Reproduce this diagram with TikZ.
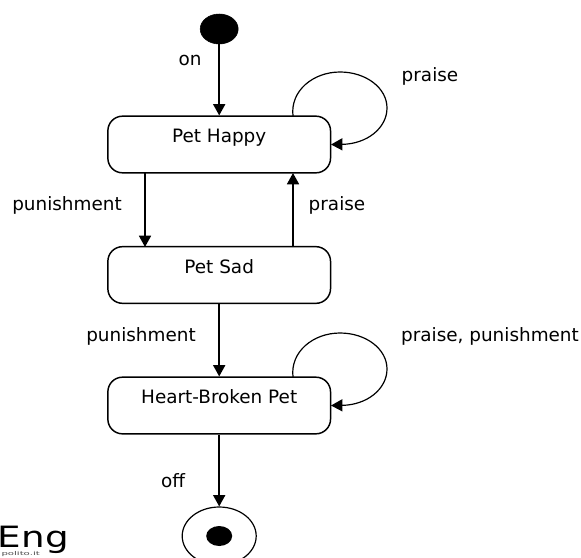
\documentclass[tikz,border=0pt]{standalone}
\usepackage{fontspec}
\setmainfont{DejaVu Sans}
\usetikzlibrary{arrows.meta,shapes.geometric}
\tikzset{
  statebox/.style={draw,line width=1.1pt,rounded corners=11pt,minimum width=167pt,minimum height=42.5pt,inner sep=0pt,text depth=13pt,font=\fontsize{13.8}{15}\selectfont},
  trans/.style={line width=1.3pt,-{Triangle[length=8.5pt,width=9pt]}},
  lab/.style={inner sep=0pt,font=\fontsize{13.8}{15}\selectfont},
}
\begin{document}
\begin{tikzpicture}[x=0.75pt,y=-0.75pt]

\clip (0,0) rectangle (581,557);

\node[draw,fill=black,ellipse,minimum width=28.5pt,minimum height=22.5pt,inner sep=0pt] (start) at (219.2,29) {};

\node[statebox] (happy) at (219.2,144.5) {Pet Happy};
\node[statebox] (sad) at (219.2,275) {Pet Sad};
\node[statebox] (broken) at (219.2,405.5) {Heart-Broken Pet};

\node[draw,line width=0.9pt,ellipse,minimum width=55.5pt,minimum height=43.5pt,inner sep=0pt] (final) at (219.2,536) {};
\node[fill=black,ellipse,minimum width=19.5pt,minimum height=15pt,inner sep=0pt] (dot) at (219.2,536) {};

\coordinate (happyL) at (145,173);
\coordinate (sadL) at (145,247);
\coordinate (happyR) at (293,173);
\coordinate (sadR) at (293,247);

\coordinate (loopA) at (293,116);
\coordinate (loopB) at (331,144.5);
\coordinate (loopC) at (293,377);
\coordinate (loopD) at (331,405.5);

\draw[trans] (start) --(happy);
\draw[trans] (happyL) --(sadL);
\draw[trans] (sadR) --(happyR);
\draw[trans] (sad) --(broken);
\draw[trans] (broken) --(final);

\draw[trans,line width=0.9pt] (loopA) .. controls (290,91) and (313,72) .. (340,72)
  .. controls (366,72) and (387,88) .. (387,108)
  .. controls (387,128) and (367,144) .. (loopB);
\draw[trans,line width=0.9pt] (loopC) .. controls (290,352) and (313,333) .. (340,333)
  .. controls (366,333) and (387,349) .. (387,369)
  .. controls (387,389) and (367,405) .. (loopD);

\node[lab] (on) at (190,60) {on};
\node[lab] (praise1) at (430,76) {praise};
\node[lab] (pun1) at (67,205) {punishment};
\node[lab] (praise2) at (337,205) {praise};
\node[lab] (pun2) at (141,336) {punishment};
\node[lab] (praise3) at (490,336) {praise, punishment};
\node[lab] (off) at (173,481) {off};

\node[inner sep=0pt,anchor=base east,xscale=1.27,text depth=0pt,font=\fontsize{22}{24}\selectfont] (eng) at (69,547) {Eng};
\node[inner sep=0pt,anchor=west,xscale=1.9,font=\fontsize{4}{4}\selectfont,text=black!70] (polito) at (1,554) {polito.it};

\end{tikzpicture}
\end{document}
